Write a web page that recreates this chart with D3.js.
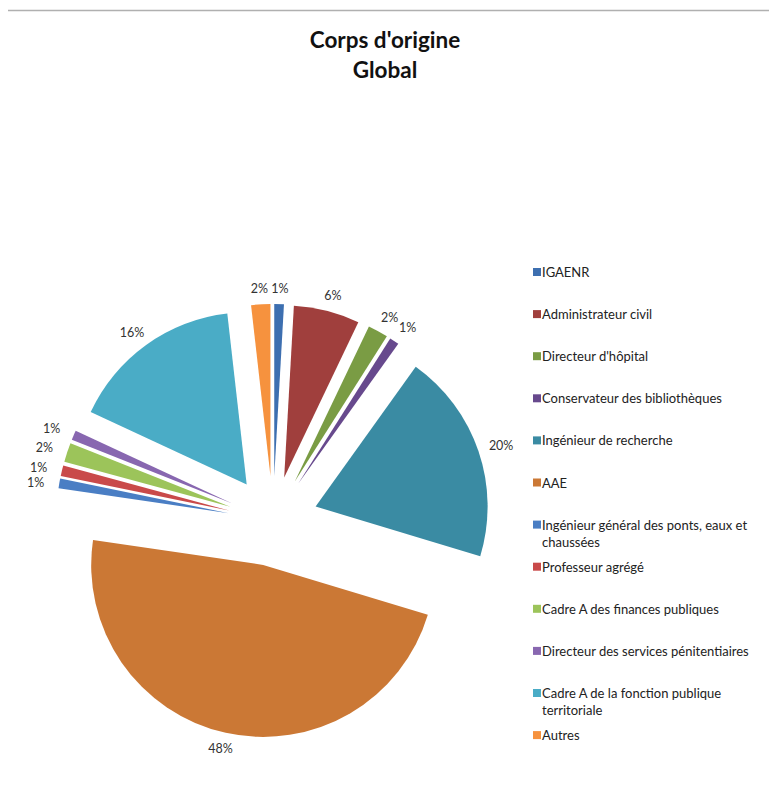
<!DOCTYPE html>
<html><head><meta charset="utf-8">
<script src="https://cdn.jsdelivr.net/npm/d3@7"></script>
<style>
html,body{margin:0;padding:0;background:#fff;}
text{font-family:Lato,"Open Sans",sans-serif;}
</style></head>
<body>
<svg id="chart" width="769" height="798"></svg>
<script>
const categories = ["IGAENR","Administrateur civil","Directeur d'hôpital","Conservateur des bibliothèques","Ingénieur de recherche","AAE","Ingénieur général des ponts, eaux et chaussées","Professeur agrégé","Cadre A des finances publiques","Directeur des services pénitentiaires","Cadre A de la fonction publique territoriale","Autres"];
const values = [0.9, 6.2, 1.9, 0.9, 19.8, 47.7, 0.9, 1.0, 1.8, 0.9, 16.3, 1.8];
const colors = ["#3d6fb0","#a03f3d","#7a9c44","#67498d","#3a8ba3","#cb7835","#4a7ec4","#c94a4a","#9cc45a","#8867b0","#4aacc6","#f6923e"];
const titleLines = ["Corps d'origine","Global"];

const svg = d3.select("#chart");
svg.append("line").attr("x1",8).attr("x2",769).attr("y1",10.5).attr("y2",10.5).attr("stroke","#b0b0b0").attr("stroke-width",1.5);

svg.selectAll("text.title").data(titleLines).join("text").attr("class","title")
  .attr("x",385).attr("y",(d,i)=>48+i*30).attr("text-anchor","middle")
  .attr("font-size",22.5).attr("font-weight","bold").attr("fill","#111").text(d=>d);

const cx = 273, cy = 521, R = 172, explode = 45, gap = 9;
const total = d3.sum(values);
const pie = d3.pie().sort(null).value(d=>d)(values);
const arc = d3.arc().innerRadius(0).outerRadius(R);
const fmt = d3.format(".0%");

const g = svg.append("g").attr("transform",`translate(${cx},${cy})`);
const slices = g.selectAll("g.slice").data(pie).join("g").attr("class","slice")
  .attr("transform",d=>{const m=(d.startAngle+d.endAngle)/2;return `translate(${explode*Math.sin(m)},${-explode*Math.cos(m)})`;});
slices.append("path").attr("d",arc).attr("fill",(d,i)=>colors[i]);

// label positions (relative to chart centre), with simple vertical de-overlap on the left side
const labelPos = pie.map(d=>{
  const m=(d.startAngle+d.endAngle)/2, ux=Math.sin(m), uy=-Math.cos(m);
  return {x: explode*ux+(R+gap)*ux+ux*15, y: explode*uy+(R+gap)*uy+uy*7, left: ux<0};
});
const leftIdx = labelPos.map((p,i)=>i).filter(i=>labelPos[i].left && Math.abs(labelPos[i].x)>150).sort((a,b)=>labelPos[a].y-labelPos[b].y);
for(let k=1;k<leftIdx.length;k++){
  const prev=labelPos[leftIdx[k-1]], cur=labelPos[leftIdx[k]];
  if(cur.y-prev.y<15.5) cur.y=prev.y+15.5;
}
g.selectAll("text.pct").data(pie).join("text").attr("class","pct")
  .attr("font-size",12.5).attr("fill","#333").attr("text-anchor","middle").attr("dominant-baseline","central")
  .attr("x",(d,i)=>labelPos[i].x).attr("y",(d,i)=>labelPos[i].y)
  .text(d=>fmt(d.value/total));

// legend
const lx = 533, ly0 = 272, lstep = 42.1;
const leg = svg.append("g");
const items = leg.selectAll("g").data(categories).join("g")
  .attr("transform",(d,i)=>`translate(${lx},${ly0+i*lstep})`);
items.append("rect").attr("x",0).attr("y",-4).attr("width",8).attr("height",8).attr("fill",(d,i)=>colors[i]);
items.append("text").attr("x",9).attr("y",0).attr("dominant-baseline","central")
  .attr("font-size",13).attr("fill","#222")
  .each(function(d){
    const t=d3.select(this); const words=d.split(" "); const maxW=218;
    let line=[]; let ts=t.append("tspan").attr("x",9).attr("dy",0);
    for(const w of words){ line.push(w); ts.text(line.join(" "));
      if(ts.node().getComputedTextLength()>maxW && line.length>1){ line.pop(); ts.text(line.join(" ")); line=[w];
        ts=t.append("tspan").attr("x",9).attr("dy",17).text(w);} }
  });
</script>
</body></html>
